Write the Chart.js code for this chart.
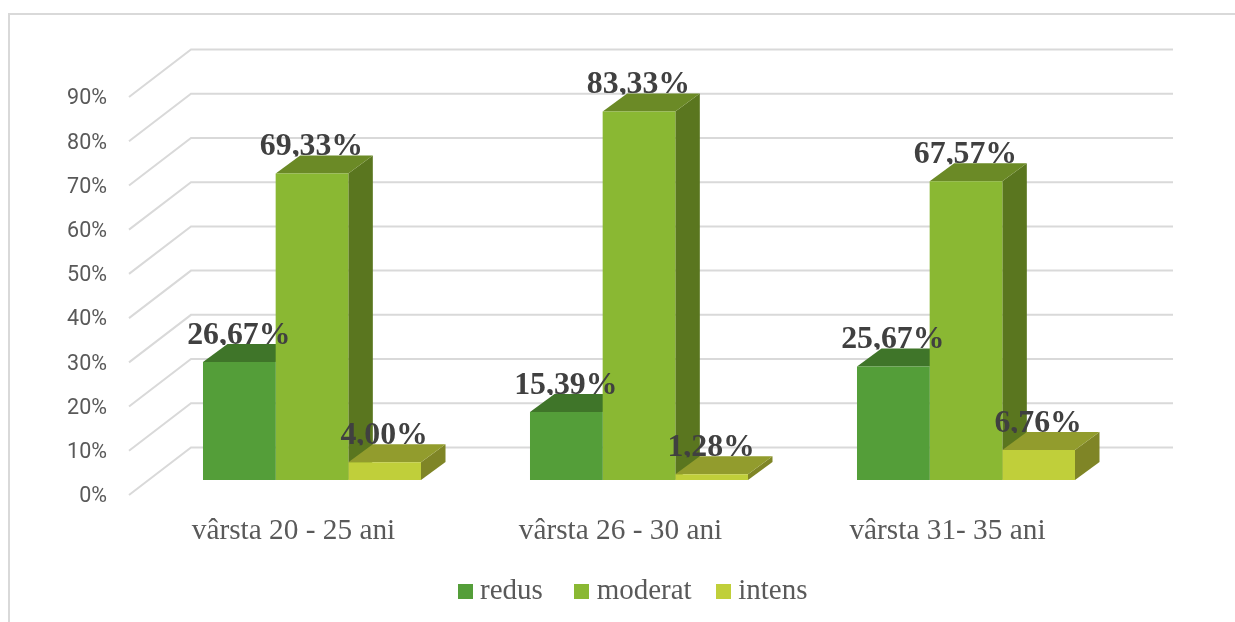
<!DOCTYPE html>
<html lang="ro">
<head>
<meta charset="utf-8">
<title>Grafic vârstă</title>
<script src="https://cdn.jsdelivr.net/npm/chart.js@4/dist/chart.umd.min.js"></script>
<style>
    html, body { margin: 0; padding: 0; background: #fff; overflow: hidden; }
    #wrap { position: relative; width: 1235px; height: 622px; }
    #frame { position: absolute; left: 8px; top: 13px; right: 0; bottom: 0; border-left: 2px solid #d9d9d9; border-top: 2px solid #d9d9d9; }
    canvas { position: absolute; left: 0; top: 0; }
</style>
</head>
<body>
<div id="wrap">
    <div id="frame"></div>
    <canvas id="chart" width="1235" height="622"></canvas>
</div>
<script>
const categories = ['vârsta 20 - 25 ani', 'vârsta 26 - 30 ani', 'vârsta 31- 35 ani'];
const seriesNames = ['redus', 'moderat', 'intens'];
const redus = [26.67, 15.39, 25.67];
const moderat = [69.33, 83.33, 67.57];
const intens = [4.00, 1.28, 6.76];
const seriesValues = [redus, moderat, intens];

const frontColors = ['#549e39', '#8ab833', '#c0cf3a'];
const topColors = ['#3f7529', '#6b8a26', '#929c2d'];
const sideColors = ['#365f22', '#5a761f', '#7f8526'];

const TEXT_COLOR = '#595959';
const SERIF = '"Liberation Serif", serif';

// Fake 3D: the value scale is the front edge of the floor, the wall sits behind it
const WALL = { dx: 62, dy: -47.5 };
const BAR_SHIFT = { dx: 18.5, dy: -15 };
const BAR_DEPTH = { dx: 24.5, dy: -18 };

function poly(ctx, color, points) {
    ctx.fillStyle = color;
    ctx.beginPath();
    points.forEach(([x, y], i) => (i ? ctx.lineTo(x, y) : ctx.moveTo(x, y)));
    ctx.closePath();
    ctx.fill();
}

const depth3d = {
    id: 'depth3d',
    afterLayout(chart) {
        // Legend is centred on the whole figure, not on the reduced plot width
        chart.legend.left += 80.5;
        chart.legend.right += 80.5;
        chart.legend.top = 545.5;
    },
    beforeDatasetsDraw(chart) {
        const { ctx, scales: { x, y } } = chart;

        // Grid lines: diagonal on the side wall, then straight along the back wall
        ctx.save();
        ctx.strokeStyle = '#d9d9d9';
        ctx.lineWidth = 2;
        y.ticks.forEach(t => {
            const py = y.getPixelForValue(t.value);
            ctx.beginPath();
            ctx.moveTo(x.left - 1, py);
            ctx.lineTo(x.left - 1 + WALL.dx, py + WALL.dy);
            ctx.lineTo(x.right + WALL.dx, py + WALL.dy);
            ctx.stroke();
        });
        ctx.restore();

        ctx.save();
        ctx.translate(BAR_SHIFT.dx, BAR_SHIFT.dy);
        seriesValues.forEach((values, s) => {
            chart.getDatasetMeta(s).data.forEach(bar => {
                const l = bar.x - bar.width / 2;
                const r = bar.x + bar.width / 2;
                const { dx, dy } = BAR_DEPTH;
                poly(ctx, sideColors[s], [[r, bar.y], [r + dx, bar.y + dy], [r + dx, bar.base + dy], [r, bar.base]]);
                poly(ctx, topColors[s], [[l, bar.y], [l + dx, bar.y + dy], [r + dx, bar.y + dy], [r, bar.y]]);
            });
        });
        // stays translated while the library paints the front faces
    },
    afterDatasetsDraw(chart) {
        const { ctx } = chart;
        ctx.restore();

        ctx.save();
        ctx.translate(BAR_SHIFT.dx, BAR_SHIFT.dy);
        ctx.font = 'bold 31.8px ' + SERIF;
        ctx.fillStyle = '#404040';
        ctx.textAlign = 'center';
        ctx.textBaseline = 'alphabetic';
        seriesValues.forEach((values, s) => {
            chart.getDatasetMeta(s).data.forEach((bar, i) => {
                const baseline = bar.y + BAR_DEPTH.dy;
                // the top face hides whatever hangs below the baseline
                ctx.save();
                ctx.beginPath();
                ctx.rect(bar.x - 80, baseline - 40, 160, 41);
                ctx.clip();
                ctx.fillText(values[i].toFixed(2).replace('.', ',') + '%', bar.x - 0.5, baseline);
                ctx.restore();
            });
        });
        ctx.restore();
    }
};

function swatch(color) {
    const c = document.createElement('canvas');
    c.width = 15;
    c.height = 15;
    const g = c.getContext('2d');
    g.fillStyle = color;
    g.fillRect(0, 0, 15, 15);
    return c;
}

new Chart(document.getElementById('chart'), {
    type: 'bar',
    data: {
        labels: categories,
        datasets: seriesNames.map((name, s) => ({
            label: name,
            data: seriesValues[s],
            backgroundColor: frontColors[s],
            borderWidth: 0,
            categoryPercentage: 0.6667,
            barPercentage: 1,
            clip: false
        }))
    },
    plugins: [depth3d],
    options: {
        responsive: false,
        animation: false,
        layout: { padding: { top: 97, right: 124, bottom: 0, left: 0 } },
        plugins: {
            tooltip: { enabled: false },
            legend: {
                position: 'bottom',
                labels: {
                    color: TEXT_COLOR,
                    font: { family: SERIF, size: 29 },
                    usePointStyle: true,
                    boxWidth: 1,
                    padding: 31,
                    generateLabels: () => seriesNames.map((name, s) => ({
                        // the first legend entry has a wider gap after it in the original
                        text: s === 0 ? name + ' ' : name,
                        fontColor: TEXT_COLOR,
                        fillStyle: frontColors[s],
                        strokeStyle: frontColors[s],
                        lineWidth: 0,
                        pointStyle: swatch(frontColors[s]),
                        hidden: false,
                        datasetIndex: s
                    }))
                }
            }
        },
        scales: {
            x: {
                grid: { display: false, drawTicks: false },
                border: { display: false },
                ticks: { color: TEXT_COLOR, font: { family: SERIF, size: 29.3 }, padding: 19, maxRotation: 0 },
                afterFit(scale) { scale.height = 127 - scale.chart.legend.height; }
            },
            y: {
                min: 0,
                max: 90,
                grid: { display: false, drawTicks: false },
                border: { display: false },
                ticks: {
                    stepSize: 10,
                    color: TEXT_COLOR,
                    font: { family: 'Roboto, sans-serif', size: 21.5 },
                    padding: 23,
                    labelOffset: 2,
                    callback: v => v + '%'
                },
                afterFit(scale) { scale.width = 130; }
            }
        }
    }
});
</script>
</body>
</html>
